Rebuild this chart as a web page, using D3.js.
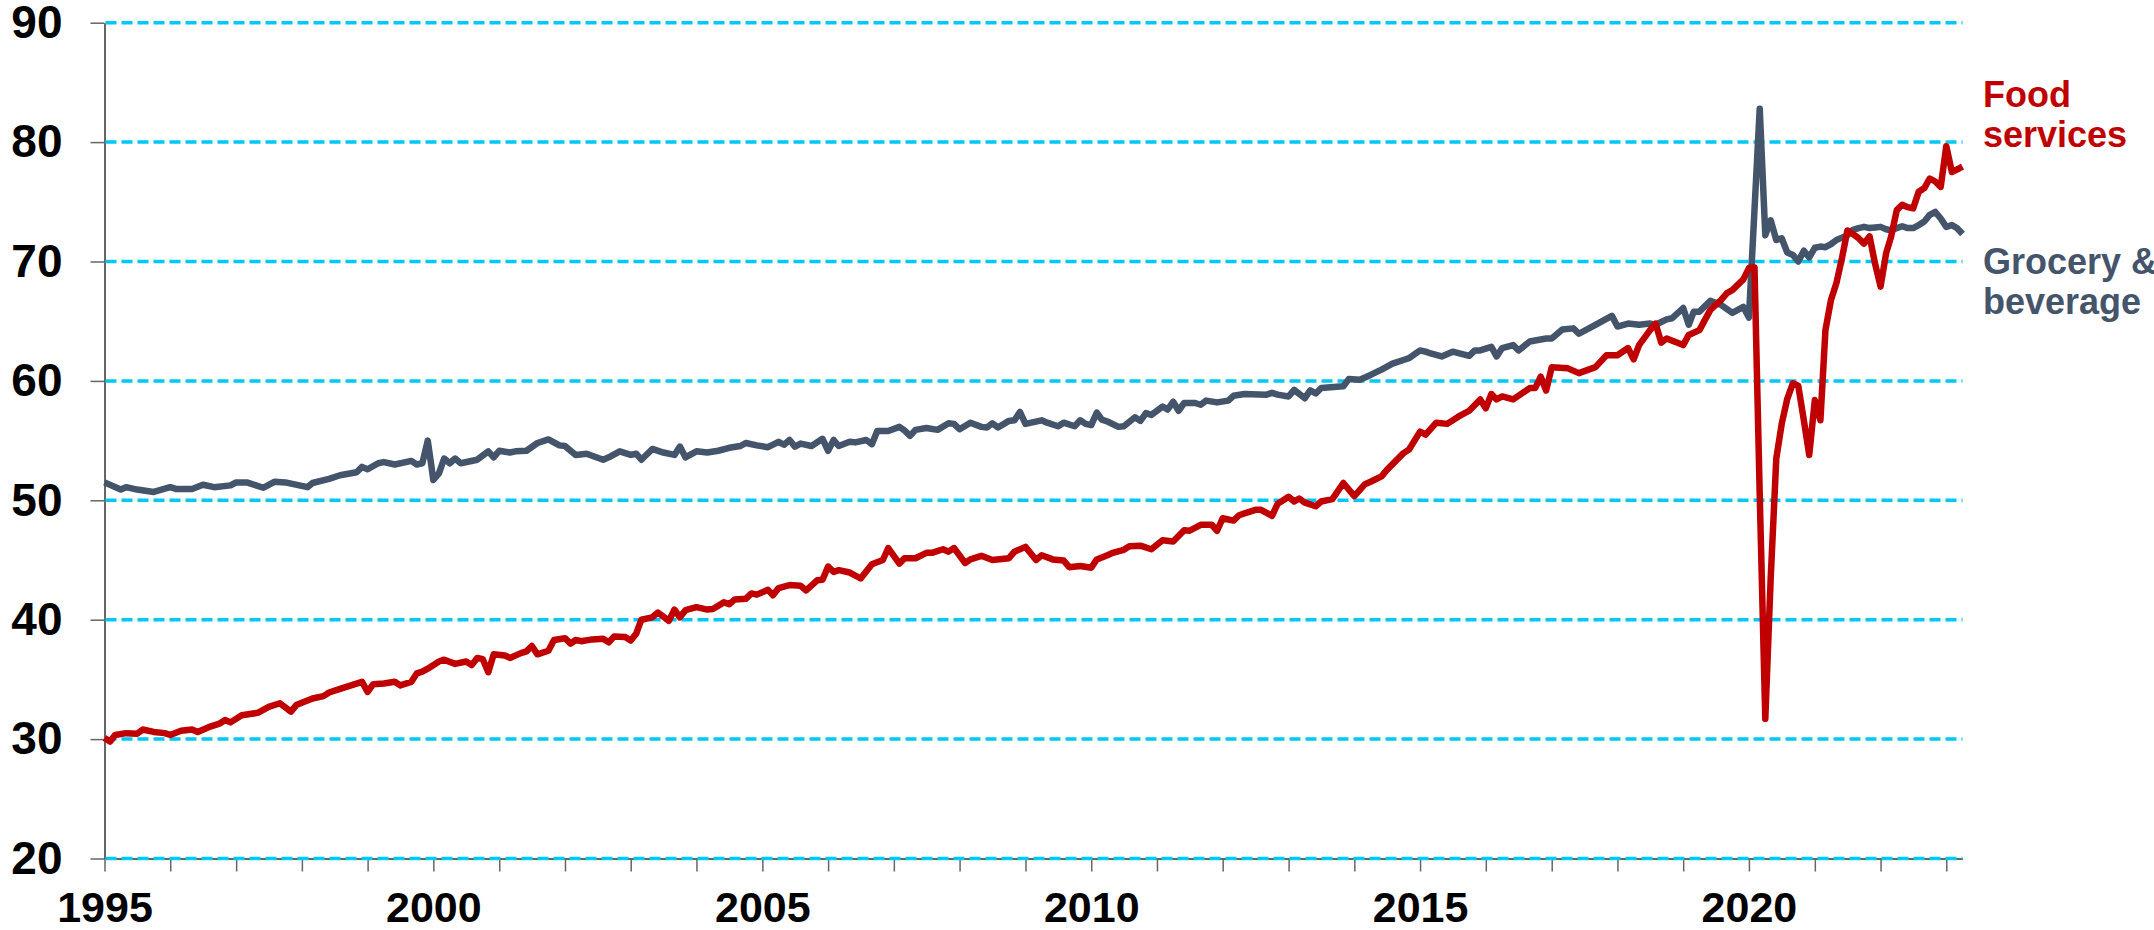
<!DOCTYPE html>
<html>
<head>
<meta charset="utf-8">
<script src="https://cdn.jsdelivr.net/npm/d3@7"></script>
<style>
  body { margin: 0; background: #fff; }
  svg { display: block; font-family: "Liberation Sans", Arial, sans-serif; }
</style>
</head>
<body>
<div id="chart"></div>
<script>
// months counted from Jan 1995 (0 = Jan 1995, 339 = Apr 2023)
const groceryMonth = [
  0,3,4,6,9,12,13,16,18,20,
  23,24,26,29,31,33,37,38,41,43,
  46,47,48,50,51,53,56,57,58,59,
  60,61,62,63,64,65,68,70,71,72,
  74,75,77,79,81,83,84,86,88,91,
  92,94,96,97,98,100,102,104,105,106,
  108,110,112,114,116,117,119,121,123,124,
  125,126,127,129,131,132,133,134,136,137,
  139,140,141,143,145,146,147,148,150,152,
  154,155,156,158,160,161,162,163,165,166,
  167,168,171,172,174,175,177,178,179,180,
  181,182,183,185,186,188,189,190,191,193,
  194,195,196,197,199,200,201,203,205,206,
  208,212,213,214,216,217,219,220,221,222,
  226,227,229,231,233,235,237,238,240,241,
  242,244,246,249,250,251,253,254,255,257,
  258,260,263,264,266,268,269,272,273,275,
  276,278,280,282,283,285,286,288,289,290,
  291,293,295,297,299,300,302,303,304,305,
  306,307,308,309,310,311,312,313,314,315,
  316,317,318,319,320,321,322,323,324,325,
  326,327,328,329,330,331,332,333,334,335,
  336,337,338,339
];
const groceryValue = [
  51.5,50.9,51.1,50.9,50.7,51.1,50.95,50.95,51.3,51.1,
  51.25,51.5,51.5,51.05,51.55,51.5,51.1,51.45,51.8,52.1,
  52.35,52.8,52.6,53.1,53.2,53.0,53.3,53.0,53.1,55.0,
  51.7,52.25,53.5,53.1,53.5,53.1,53.4,54.1,53.6,54.15,
  54.0,54.1,54.15,54.8,55.1,54.6,54.55,53.8,53.9,53.4,
  53.6,54.1,53.8,53.9,53.4,54.3,54.0,53.8,54.5,53.6,
  54.1,54.0,54.15,54.4,54.55,54.8,54.6,54.45,54.9,54.65,
  55.05,54.5,54.75,54.55,55.15,54.15,55.05,54.55,54.9,54.85,
  55.05,54.7,55.8,55.8,56.15,55.85,55.4,55.9,56.05,55.9,
  56.45,56.4,55.95,56.5,56.15,56.1,56.45,56.1,56.65,56.7,
  57.4,56.4,56.7,56.5,56.2,56.5,56.2,56.7,56.4,56.3,
  57.35,56.75,56.6,56.15,56.2,56.95,56.65,57.3,57.15,57.85,
  57.6,58.25,57.5,58.15,58.15,58.0,58.35,58.2,58.35,58.75,
  58.9,58.85,59.0,58.85,58.7,59.25,58.55,59.2,58.95,59.4,
  59.55,60.15,60.1,60.5,60.95,61.45,61.75,61.9,62.55,62.45,
  62.3,62.05,62.45,62.1,62.55,62.55,62.85,62.05,62.75,63.0,
  62.55,63.3,63.55,63.55,64.3,64.4,63.95,64.7,64.95,65.45,
  64.55,64.8,64.7,64.8,64.7,65.15,65.25,66.1,64.7,65.8,
  65.8,66.7,66.35,65.7,66.2,65.3,82.8,72.2,73.45,71.8,
  71.95,70.75,70.55,70.0,70.9,70.35,71.15,71.25,71.2,71.45,
  71.8,72.0,72.2,72.65,72.8,72.9,72.8,72.85,72.9,72.7,
  72.6,72.8,72.95,72.8,72.8,73.05,73.35,73.9,74.15,73.6,
  72.9,73.05,72.8,72.3
];

const foodMonth = [
  0,1,2,4,6,7,9,11,12,14,
  16,17,19,21,22,23,25,28,30,32,
  34,35,38,40,41,43,45,47,48,49,
  51,53,54,56,57,58,59,61,62,64,
  66,67,68,69,70,71,73,74,76,77,
  78,79,81,82,84,85,86,87,89,91,
  92,93,95,96,97,98,100,101,103,104,
  105,106,108,110,111,113,114,115,117,118,
  119,121,122,123,125,127,128,130,131,132,
  133,134,136,138,140,142,143,145,146,148,
  150,151,153,154,155,157,158,160,162,165,
  166,168,170,171,173,175,176,178,180,181,
  183,184,186,187,189,191,193,195,197,198,
  200,202,203,204,206,207,208,210,211,213,
  214,216,217,218,219,221,222,224,226,228,
  230,231,233,234,237,238,240,241,243,245,
  247,249,251,252,253,254,255,257,260,261,
  262,263,264,267,269,272,274,276,278,279,
  280,282,283,284,285,288,289,291,293,295,
  296,297,299,300,301,302,303,304,305,306,
  307,308,309,310,311,312,313,314,315,316,
  317,318,319,320,321,322,323,324,325,326,
  327,328,329,330,331,332,333,334,335,336,
  337,338,339
];
const foodValue = [
  30.1,29.8,30.35,30.5,30.45,30.8,30.6,30.5,30.35,30.7,
  30.8,30.6,31.0,31.3,31.6,31.4,32.0,32.2,32.7,33.0,
  32.3,32.85,33.4,33.6,33.9,34.2,34.5,34.8,33.95,34.6,
  34.65,34.8,34.5,34.8,35.5,35.65,35.9,36.5,36.65,36.3,
  36.5,36.2,36.8,36.7,35.6,37.1,37.0,36.8,37.2,37.35,
  37.8,37.1,37.4,38.3,38.45,38.0,38.3,38.2,38.35,38.4,
  38.1,38.6,38.55,38.25,38.85,40.0,40.2,40.6,39.9,40.85,
  40.2,40.8,41.05,40.85,40.9,41.45,41.3,41.7,41.75,42.2,
  42.1,42.5,42.05,42.65,42.9,42.85,42.45,43.3,43.35,44.45,
  44.0,44.15,43.95,43.45,44.65,45.0,46.0,44.7,45.15,45.15,
  45.6,45.6,45.9,45.7,46.0,44.75,45.05,45.35,45.0,45.15,
  45.7,46.1,45.0,45.4,45.05,44.95,44.4,44.5,44.35,45.05,
  45.4,45.6,45.85,46.15,46.2,45.9,46.65,46.55,47.5,47.45,
  47.95,47.95,47.45,48.5,48.3,48.75,48.9,49.2,49.2,48.7,
  49.7,50.3,49.9,50.15,49.8,49.5,49.9,50.1,51.45,50.35,
  51.35,51.55,52.0,52.55,53.95,54.25,55.75,55.5,56.5,56.4,
  57.0,57.5,58.45,57.7,58.9,58.45,58.7,58.45,59.4,59.4,
  60.35,59.2,61.15,61.05,60.65,61.15,62.15,62.15,62.75,61.8,
  63.0,64.25,64.8,63.2,63.55,63.0,63.85,64.25,65.95,66.8,
  67.35,67.6,68.5,69.45,69.5,50.5,31.7,43.5,53.5,56.4,
  58.5,59.8,59.6,56.7,53.8,58.4,56.7,64.25,66.8,68.2,
  70.3,72.6,72.3,71.95,71.5,72.1,69.85,67.9,70.7,72.1,
  74.3,74.75,74.55,74.45,75.85,76.15,76.95,76.7,76.25,79.65,
  77.5,77.7,77.95
];

const yTicks = [20, 30, 40, 50, 60, 70, 80, 90];
const xLabelYears = [1995, 2000, 2005, 2010, 2015, 2020];

const width = 2154, height = 930;
const margin = {left: 104.5, right: 2154 - 1962.5, top: 22.7, bottom: 930 - 858.5};

const start = new Date(1995, 0, 1);
const toDate = m => d3.timeMonth.offset(start, m);

const x = d3.scaleTime()
  .domain([start, toDate(339)])
  .range([margin.left, width - margin.right]);
const y = d3.scaleLinear()
  .domain([20, 90])
  .range([height - margin.bottom, margin.top]);

const svg = d3.select("#chart").append("svg")
  .attr("width", width)
  .attr("height", height);

// y axis
const yAxis = svg.append("g")
  .attr("transform", `translate(${margin.left},0)`)
  .call(d3.axisLeft(y).tickValues(yTicks).tickSize(14).tickSizeOuter(0).tickPadding(28));
yAxis.select(".domain").attr("stroke", "#333").attr("stroke-width", 1.5);
yAxis.selectAll(".tick line").attr("stroke", "#666").attr("stroke-width", 1.5);
yAxis.selectAll(".tick text")
  .attr("fill", "#000")
  .style("font-size", "46px")
  .style("font-weight", "bold");

// x axis
const xAxis = svg.append("g")
  .attr("transform", `translate(0,${height - margin.bottom})`)
  .call(d3.axisBottom(x)
    .ticks(d3.timeYear.every(1))
    .tickSize(13)
    .tickSizeOuter(0)
    .tickPadding(20)
    .tickFormat(d => xLabelYears.includes(d.getFullYear()) ? d.getFullYear() : ""));
xAxis.select(".domain").attr("stroke", "#333").attr("stroke-width", 1.5);
xAxis.selectAll(".tick line").attr("stroke", "#666").attr("stroke-width", 1.5);
xAxis.selectAll(".tick text")
  .attr("fill", "#000")
  .style("font-size", "43px")
  .style("font-weight", "bold");

// dashed gridlines
svg.append("g")
  .selectAll("line")
  .data(yTicks)
  .join("line")
    .attr("x1", margin.left + 1)
    .attr("x2", width - margin.right)
    .attr("y1", d => y(d))
    .attr("y2", d => y(d))
    .attr("stroke", "#00c8fa")
    .attr("stroke-width", 3.5)
    .attr("stroke-dasharray", "11,5");

const line = d3.line()
  .x(d => x(toDate(d[0])))
  .y(d => y(d[1]));

const grocery = d3.zip(groceryMonth, groceryValue);
const food = d3.zip(foodMonth, foodValue);

svg.append("path")
  .datum(grocery)
  .attr("d", line)
  .attr("fill", "none")
  .attr("stroke", "#44546a")
  .attr("stroke-width", 6.5)
  .attr("stroke-linejoin", "round");

svg.append("path")
  .datum(food)
  .attr("d", line)
  .attr("fill", "none")
  .attr("stroke", "#c00000")
  .attr("stroke-width", 6.5)
  .attr("stroke-linejoin", "round");

// series labels
const labels = [
  {lines: ["Food", "services"], y: 107, color: "#c00000"},
  {lines: ["Grocery &", "beverage"], y: 274, color: "#44546a"}
];
labels.forEach(l => {
  svg.append("text")
    .attr("x", 1983)
    .attr("y", l.y)
    .attr("fill", l.color)
    .style("font-size", "36px")
    .style("font-weight", "bold")
    .selectAll("tspan")
    .data(l.lines)
    .join("tspan")
      .attr("x", 1983)
      .attr("dy", (d, i) => i === 0 ? 0 : 40)
      .text(d => d);
});
</script>
</body>
</html>
